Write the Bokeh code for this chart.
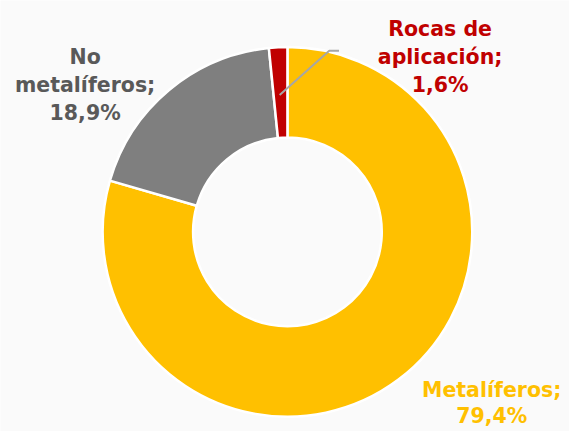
import math
from bokeh.plotting import figure
from bokeh.models import Range1d, ColumnDataSource
from bokeh.core.properties import value
from bokeh.embed import file_html
from bokeh.resources import INLINE

# ---- data ----
categories = ["Metalíferos", "No metalíferos", "Rocas de aplicación"]
label_texts = ["Metalíferos;", "No\nmetalíferos;", "Rocas de\naplicación;"]
shares = [79.4, 18.9, 1.6]
colors = ["#FFC000", "#7F7F7F", "#C00000"]
label_colors = ["#FFC000", "#595959", "#C00000"]

# ---- layout: data units = reference-picture pixels ----
W, H = 569, 431
RW, RH = 585, 447
def X(px):
    return px
def Y(py):
    return RH - py

cx, cy = X(295), Y(240)
r_out, r_in = 190, 97

p = figure(width=W, height=H, output_backend="svg", toolbar_location=None,
           x_range=Range1d(0, RW), y_range=Range1d(0, RH), min_border=0,
           background_fill_color="#FAFAFA", border_fill_color="#FAFAFA")
p.axis.visible = False
p.grid.visible = False
p.outline_line_color = None

total = sum(shares)
starts, ends = [], []
acc = 0.0
for s in shares:
    starts.append(math.pi / 2 - 2 * math.pi * acc / total)
    acc += s
    ends.append(math.pi / 2 - 2 * math.pi * acc / total)

src = ColumnDataSource(dict(cat=categories, share=shares, color=colors,
                            start=starts, end=ends))
p.annular_wedge(x=cx, y=cy, inner_radius=r_in, outer_radius=r_out,
                start_angle="start", end_angle="end", direction="clock",
                fill_color="color", line_color="white", line_width=2.5,
                source=src)

# leader line for small slice
p.line(x=[X(287), X(338), X(348)], y=[Y(98), Y(52), Y(52)],
       line_color="#A6A6A6", line_width=2)

# labels: anchor = (center x, baseline of first line, line gap)
anchors = [(505, 404, 27), (87, 59, 29), (452, 30, 29)]
for lab, s, col, (ax, ay, gap) in zip(label_texts, shares, label_colors, anchors):
    lines = lab.split("\n") + [f"{s:.1f}%".replace(".", ",")]
    xs = [X(ax)] * len(lines)
    ys = [Y(ay + i * gap) for i in range(len(lines))]
    p.text(x=xs, y=ys, text=lines, text_align="center",
           text_baseline="alphabetic", text_color=col,
           text_font=value("DejaVu Sans"), text_font_style="bold",
           text_font_size="20.5px")

open("out.html", "w").write(file_html(p, INLINE))
